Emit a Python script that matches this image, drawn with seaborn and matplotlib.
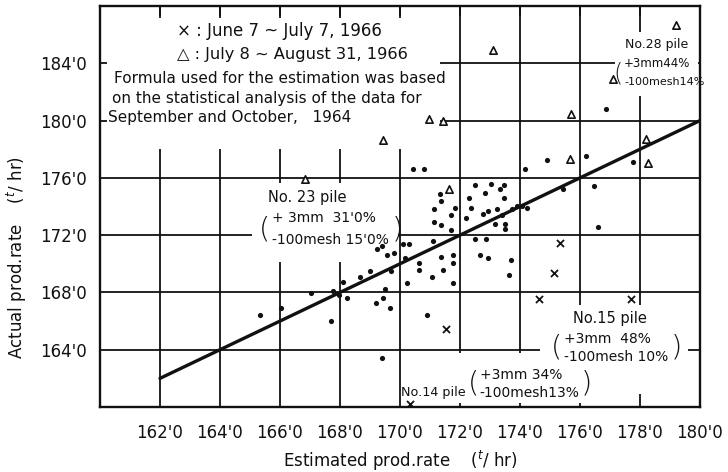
import matplotlib
matplotlib.use('Agg')
import matplotlib.pyplot as plt
from matplotlib.patches import Rectangle
import pandas as pd
import seaborn as sns

# estimated vs actual production rate (t/hr)
dot_est = [165.33, 166.03, 167.03, 167.70, 167.77, 167.97, 168.10, 168.23, 168.67, 169.00,
           169.24, 169.40, 169.55, 169.80, 169.70, 169.50, 169.44, 169.20, 169.67, 169.40,
           170.10, 170.30, 170.17, 170.63, 170.63, 170.23, 171.07, 171.10, 171.37, 171.43,
           171.77, 171.77, 171.77, 170.90, 172.50, 172.87, 172.67, 172.93, 173.70, 173.63,
           170.43, 170.80, 171.33, 171.37, 171.13, 171.13, 171.37, 171.70, 171.70, 171.83,
           172.30, 172.50, 172.83, 173.03, 173.47, 173.33, 173.47, 172.37, 172.20, 172.77,
           172.93, 173.23, 173.40, 173.73, 173.90, 174.07, 174.23, 173.17, 173.50, 173.50,
           174.17, 174.90, 175.43, 176.20, 176.47, 176.60, 176.87, 177.77]
dot_act = [166.43, 166.90, 167.96, 166.00, 168.10, 167.80, 168.70, 167.60, 169.07, 169.50,
           171.00, 171.25, 170.60, 170.75, 169.50, 168.25, 167.60, 167.25, 166.90, 163.40,
           171.40, 171.40, 170.40, 170.05, 169.60, 168.65, 169.05, 171.60, 170.46, 169.56,
           170.60, 170.04, 168.65, 166.43, 171.75, 171.70, 170.60, 170.40, 170.25, 169.20,
           176.60, 176.60, 174.90, 174.35, 173.86, 172.90, 172.70, 173.40, 172.36, 173.90,
           174.56, 175.50, 174.97, 175.60, 175.50, 175.20, 174.56, 173.90, 173.20, 173.50,
           173.70, 173.80, 173.44, 173.86, 174.00, 174.00, 173.93, 172.75, 172.80, 172.40,
           176.60, 177.26, 175.25, 177.54, 175.46, 172.54, 180.80, 177.10]

# June 7 - July 7, 1966
june_est = [175.33, 175.14, 174.63, 177.70, 171.53, 170.33]
june_act = [171.43, 169.35, 167.54, 167.54, 165.46, 160.20]

# July 8 - August 31, 1966
july_est = [166.83, 169.43, 170.97, 171.43, 171.63, 173.10, 175.67, 175.70, 177.10, 178.20,
            178.27, 179.20]
july_act = [175.95, 178.65, 180.10, 180.00, 175.20, 184.90, 177.30, 180.46, 182.90, 178.70,
            177.06, 186.70]

# estimation line
line_est = [162.0, 180.0]
line_act = [162.0, 180.0]

x_ticks = [162, 164, 166, 168, 170, 172, 174, 176, 178, 180]
y_ticks = [164, 168, 172, 176, 180, 184]

ink = '#111111'

sns.set_style('white')
plt.rcParams['font.family'] = ['DejaVu Sans']

fig = plt.figure(figsize=(7.28, 4.72), dpi=100)
ax = fig.add_axes([100 / 728, 65 / 472, 600 / 728, 401 / 472])

# white areas where the annotations interrupt the grid
blank_areas = [(160.23, 178.03, 171.33, 187.15),
               (165.07, 170.11, 169.93, 175.67),
               (174.67, 160.90, 179.60, 167.13),
               (170.07, 160.25, 176.40, 163.80),
               (177.17, 181.70, 179.93, 186.20)]
for x0, y0, x1, y1 in blank_areas:
    ax.add_patch(Rectangle((x0, y0), x1 - x0, y1 - y0, facecolor='white',
                           edgecolor='none', zorder=1))

dots = pd.DataFrame({'est': dot_est, 'act': dot_act})
june = pd.DataFrame({'est': june_est, 'act': june_act})
july = pd.DataFrame({'est': july_est, 'act': july_act})
line = pd.DataFrame({'est': line_est, 'act': line_act})

sns.lineplot(data=line, x='est', y='act', color=ink, linewidth=2.4, ax=ax, zorder=3)
sns.scatterplot(data=dots, x='est', y='act', marker='o', s=14, color=ink,
                edgecolor=ink, linewidth=0, ax=ax, zorder=4)
sns.scatterplot(data=june, x='est', y='act', marker='x', s=26, color=ink,
                linewidth=1.3, ax=ax, zorder=4)
sns.scatterplot(data=july, x='est', y='act', marker='^', s=28, facecolor='white',
                edgecolor=ink, linewidth=1.2, ax=ax, zorder=4)

ax.set_xlim(160, 180)
ax.set_ylim(160, 188)
ax.set_xticks(x_ticks)
ax.set_yticks(y_ticks)
ax.set_xticklabels(["{}'0".format(v) for v in x_ticks])
ax.set_yticklabels(["{}'0".format(v) for v in y_ticks])
ax.grid(True, color=ink, linewidth=1.3)
ax.set_axisbelow(True)
ax.tick_params(axis='x', bottom=False, top=True, direction='in', length=7, width=1.3,
               color=ink, labelsize=12, pad=12, labelcolor=ink)
ax.tick_params(axis='y', left=False, labelsize=12, pad=6, labelcolor=ink)
for side in ax.spines.values():
    side.set_color(ink)
    side.set_linewidth(1.7)

ax.set_xlabel('Estimated prod.rate    ($^{t}$/ hr)', fontsize=12, color=ink, labelpad=5)
ax.set_ylabel('Actual prod.rate    ($^{t}$/ hr)', fontsize=12, color=ink)
ax.yaxis.set_label_coords(-0.118, 0.372)

# legend and note
ax.text(162.55, 186.22, '× : June 7 ~ July 7, 1966', fontsize=12, va='center', color=ink, zorder=5)
ax.text(162.55, 184.63, '△ : July 8 ~ August 31, 1966', fontsize=11.7, va='center', color=ink, zorder=5)
ax.text(160.45, 182.96, 'Formula used for the estimation was based', fontsize=11,
        va='center', color=ink, zorder=5)
ax.text(160.40, 181.57, 'on the statistical analysis of the data for', fontsize=11,
        va='center', color=ink, zorder=5)
ax.text(160.25, 180.18, 'September and October,   1964', fontsize=11,
        va='center', color=ink, zorder=5)

# pile annotations
bracket = dict(fontsize=21, fontweight=200, va='center', ha='center', color=ink, zorder=5)
note = dict(fontsize=10, va='center', color=ink, zorder=5)

ax.text(165.60, 174.63, 'No. 23 pile', fontsize=10.5, va='center', color=ink, zorder=5)
ax.text(165.50, 172.40, '(', **bracket)
ax.text(165.75, 173.17, '+ 3mm  31\'0%', **note)
ax.text(165.75, 171.64, '-100mesh 15\'0%', **note)
ax.text(169.92, 172.40, ')', **bracket)

ax.text(177.00, 166.15, 'No.15 pile', ha='center', fontsize=10.5, va='center', color=ink, zorder=5)
ax.text(175.20, 164.14, '(', **bracket)
ax.text(175.45, 164.76, '+3mm  48%', **note)
ax.text(175.45, 163.51, '-100mesh 10%', **note)
ax.text(179.23, 164.14, ')', **bracket)

ax.text(170.03, 161.00, 'No.14 pile', fontsize=9.2, va='center', color=ink, zorder=5)
ax.text(172.45, 161.64, '(', **bracket)
ax.text(172.65, 162.26, '+3mm 34%', **note)
ax.text(172.65, 161.00, '-100mesh13%', **note)
ax.text(176.22, 161.64, ')', **bracket)

ax.text(177.50, 185.32, 'No.28 pile', fontsize=9, va='center', color=ink, zorder=5)
ax.text(177.25, 183.30, '(', fontsize=17, fontweight=200, va='center', ha='center',
        color=ink, zorder=5)
ax.text(177.47, 184.00, '+3mm44%', fontsize=8.5, va='center', color=ink, zorder=5)
ax.text(177.47, 182.68, '-100mesh14%', fontsize=8, va='center', color=ink, zorder=5)

fig.savefig('out.png', dpi=100, facecolor='white')
